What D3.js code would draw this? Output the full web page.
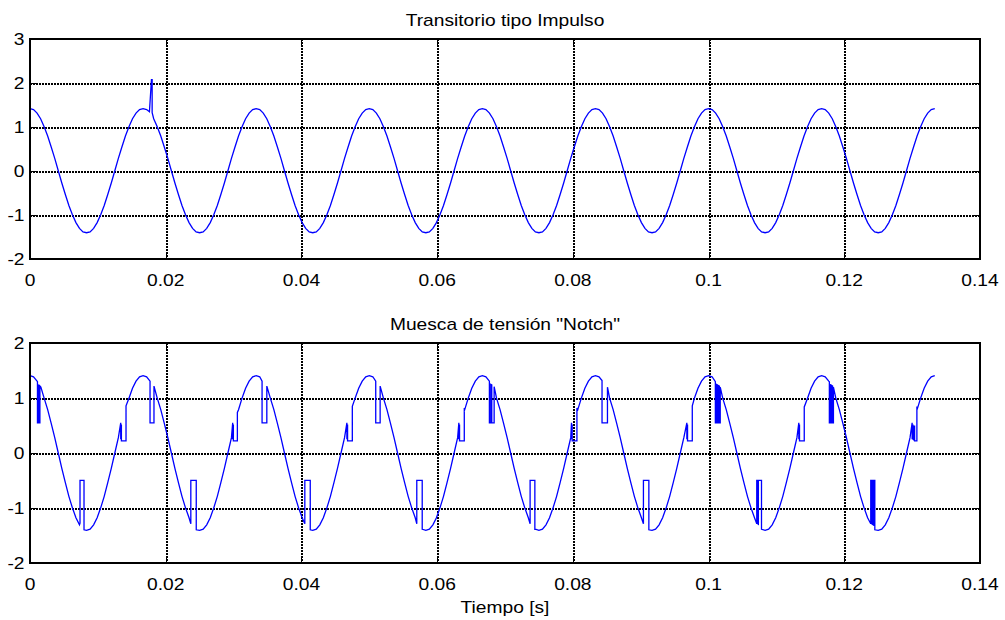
<!DOCTYPE html>
<html>
<head>
<meta charset="utf-8">
<script src="https://cdn.jsdelivr.net/npm/d3@7"></script>
<style>
  html, body { margin: 0; padding: 0; background: #fff; }
  svg { display: block; }
  text { font-family: "Liberation Sans", Arial, Helvetica, sans-serif; font-size: 16px; fill: #000; }
</style>
</head>
<body>
<svg id="chart" width="1005" height="620"></svg>
<script>
// Sampled 60 Hz supply voltage, 32 samples per cycle (p.u.)
const sampleStep = 1 / 1920;
const baseWave = [
  1.41, 1.39, 1.31, 1.18, 1.00, 0.79, 0.54, 0.28, 0.00, -0.28, -0.54, -0.79, -1.00, -1.18, -1.31, -1.39,
  -1.41, -1.39, -1.31, -1.18, -1.00, -0.79, -0.54, -0.28, 0.00, 0.28, 0.54, 0.79, 1.00, 1.18, 1.31, 1.39,
  1.41, 1.39, 1.31, 1.18, 1.00, 0.79, 0.54, 0.28, 0.00, -0.28, -0.54, -0.79, -1.00, -1.18, -1.31, -1.39,
  -1.41, -1.39, -1.31, -1.18, -1.00, -0.79, -0.54, -0.28, 0.00, 0.28, 0.54, 0.79, 1.00, 1.18, 1.31, 1.39,
  1.41, 1.39, 1.31, 1.18, 1.00, 0.79, 0.54, 0.28, 0.00, -0.28, -0.54, -0.79, -1.00, -1.18, -1.31, -1.39,
  -1.41, -1.39, -1.31, -1.18, -1.00, -0.79, -0.54, -0.28, 0.00, 0.28, 0.54, 0.79, 1.00, 1.18, 1.31, 1.39,
  1.41, 1.39, 1.31, 1.18, 1.00, 0.79, 0.54, 0.28, 0.00, -0.28, -0.54, -0.79, -1.00, -1.18, -1.31, -1.39,
  -1.41, -1.39, -1.31, -1.18, -1.00, -0.79, -0.54, -0.28, 0.00, 0.28, 0.54, 0.79, 1.00, 1.18, 1.31, 1.39,
  1.41, 1.39, 1.31, 1.18, 1.00, 0.79, 0.54, 0.28, 0.00, -0.28, -0.54, -0.79, -1.00, -1.18, -1.31, -1.39,
  -1.41, -1.39, -1.31, -1.18, -1.00, -0.79, -0.54, -0.28, 0.00, 0.28, 0.54, 0.79, 1.00, 1.18, 1.31, 1.39,
  1.41, 1.39, 1.31, 1.18, 1.00, 0.79, 0.54, 0.28, 0.00, -0.28, -0.54, -0.79, -1.00, -1.18, -1.31, -1.39,
  -1.41, -1.39, -1.31, -1.18, -1.00, -0.79, -0.54, -0.28, 0.00, 0.28, 0.54, 0.79, 1.00, 1.18, 1.31, 1.39,
  1.41, 1.39, 1.31, 1.18, 1.00, 0.79, 0.54, 0.28, 0.00, -0.28, -0.54, -0.79, -1.00, -1.18, -1.31, -1.39,
  -1.41, -1.39, -1.31, -1.18, -1.00, -0.79, -0.54, -0.28, 0.00, 0.28, 0.54, 0.79, 1.00, 1.18, 1.31, 1.39,
  1.41, 1.39, 1.31, 1.18, 1.00, 0.79, 0.54, 0.28, 0.00, -0.28, -0.54, -0.79, -1.00, -1.18, -1.31, -1.39,
  -1.41, -1.39, -1.31, -1.18, -1.00, -0.79, -0.54, -0.28, 0.00, 0.28, 0.54, 0.79, 1.00, 1.18, 1.31, 1.39,
  1.41
];

// Impulsive transient: [time s, voltage]
const impulsePoints = [
  [[0.0176, 1.34], [0.0179, 2.07], [0.0180, 2.07], [0.0180, 1.32]]
];

// Commutation notches after each positive peak
const notchesA = [
  [[0.0011, 1.30], [0.0011, 0.55], [0.00122, 0.55], [0.00122, 1.24], [0.00134, 1.23], [0.00134, 0.55], [0.00146, 0.55], [0.00146, 1.22], [0.0016, 1.20]],
  [[0.01769, 1.31], [0.01769, 0.55], [0.01827, 0.55], [0.01827, 1.22]],
  [[0.0342, 1.31], [0.0342, 0.55], [0.0349, 0.55], [0.0349, 1.22]],
  [[0.05095, 1.31], [0.05095, 0.55], [0.0516, 0.55], [0.0516, 1.22]],
  [[0.0677, 1.31], [0.0677, 0.55], [0.0679, 0.55], [0.0679, 1.25], [0.06805, 1.24], [0.06805, 0.55], [0.0684, 0.55], [0.0684, 1.21]],
  [[0.0843, 1.32], [0.0843, 0.55], [0.0851, 0.55], [0.0851, 1.20]],
  [[0.1010, 1.30], [0.1010, 0.55], [0.10115, 0.55], [0.10115, 1.25], [0.1013, 1.24], [0.1013, 0.55], [0.10145, 0.55], [0.10145, 1.23], [0.1016, 1.22], [0.1016, 0.55], [0.10172, 0.55], [0.10172, 1.20]],
  [[0.1178, 1.30], [0.1178, 0.55], [0.11792, 0.55], [0.11792, 1.25], [0.11804, 1.24], [0.11804, 0.55], [0.11816, 0.55], [0.11816, 1.23], [0.11828, 1.22], [0.11828, 0.55], [0.1184, 0.55], [0.1184, 1.20]]
];

// Notches just before each negative peak
const notchesB = [
  [[0.00737, -1.28], [0.00737, -0.50], [0.00796, -0.50], [0.00796, -1.40]],
  [[0.0237, -1.29], [0.0237, -0.50], [0.0245, -0.50], [0.0245, -1.40]],
  [[0.0405, -1.29], [0.0405, -0.50], [0.0413, -0.50], [0.0413, -1.40]],
  [[0.0570, -1.29], [0.0570, -0.50], [0.0578, -0.50], [0.0578, -1.40]],
  [[0.0737, -1.29], [0.0737, -0.50], [0.0744, -0.50], [0.0744, -1.39]],
  [[0.0904, -1.29], [0.0904, -0.50], [0.0912, -0.50], [0.0912, -1.40]],
  [[0.1071, -1.29], [0.1071, -0.50], [0.10722, -0.50], [0.10722, -1.29], [0.10734, -1.30], [0.10734, -0.50], [0.1078, -0.50], [0.1078, -1.40]],
  [[0.1239, -1.29], [0.1239, -0.50], [0.12402, -0.50], [0.12402, -1.29], [0.12414, -1.30], [0.12414, -0.50], [0.12426, -0.50], [0.12426, -1.31], [0.12438, -1.32], [0.12438, -0.50], [0.1245, -0.50], [0.1245, -1.40]]
];

// Notches on the rising slope
const notchesC = [
  [[0.01337, 0.55], [0.01337, 0.25], [0.01347, 0.52], [0.01347, 0.22], [0.01415, 0.22], [0.01415, 0.86]],
  [[0.02987, 0.55], [0.02987, 0.25], [0.02997, 0.52], [0.02997, 0.22], [0.03056, 0.22], [0.03056, 0.74]],
  [[0.0467, 0.55], [0.0467, 0.25], [0.0468, 0.52], [0.0468, 0.22], [0.0475, 0.22], [0.0475, 0.85]],
  [[0.0632, 0.55], [0.0632, 0.25], [0.0633, 0.52], [0.0633, 0.22], [0.0640, 0.22], [0.0640, 0.82]],
  [[0.0798, 0.55], [0.0798, 0.25], [0.0799, 0.52], [0.0799, 0.22], [0.0806, 0.22], [0.0806, 0.82]],
  [[0.0968, 0.55], [0.0968, 0.25], [0.0969, 0.52], [0.0969, 0.22], [0.0976, 0.22], [0.0976, 0.86]],
  [[0.1133, 0.55], [0.1133, 0.25], [0.1134, 0.52], [0.1134, 0.22], [0.1141, 0.22], [0.1141, 0.84]],
  [[0.1300, 0.55], [0.1300, 0.25], [0.13012, 0.52], [0.13012, 0.24], [0.13024, 0.50], [0.13024, 0.23], [0.13036, 0.50], [0.13036, 0.22], [0.1307, 0.22], [0.1307, 0.85]]
];

const xTicks = [0, 0.02, 0.04, 0.06, 0.08, 0.10, 0.12, 0.14];
const xTickLabels = ["0", "0.02", "0.04", "0.06", "0.08", "0.1", "0.12", "0.14"];
const topYTicks = [-2, -1, 0, 1, 2, 3];
const bottomYTicks = [-2, -1, 0, 1, 2];
const topTitle = "Transitorio tipo Impulso";
const bottomTitle = "Muesca de tensión \"Notch\"";
const xAxisTitle = "Tiempo [s]";

// Merge the sampled wave with event blocks (each block replaces the samples it spans)
function buildSeries(events) {
  const samples = baseWave.map((v, i) => [[i * sampleStep, v]]);
  const kept = samples.filter(b => !events.some(e => b[0][0] >= e[0][0] && b[0][0] <= e[e.length - 1][0]));
  return kept.concat(events).sort((a, b) => a[0][0] - b[0][0]).flat();
}

const svg = d3.select("#chart");
const plotLeft = 30, plotRight = 980;
const x = d3.scaleLinear().domain([0, 0.14]).range([plotLeft, plotRight]);
const textStretch = 1.2;

function stretchedText(g, tx, ty, str, anchor) {
  g.append("text")
    .attr("transform", `translate(${tx},${ty}) scale(${textStretch},1)`)
    .attr("text-anchor", anchor)
    .text(str);
}

function drawPanel(top, bottom, yDomain, yTicks, title, series) {
  const y = d3.scaleLinear().domain(yDomain).range([bottom, top]);
  const g = svg.append("g");
  const snap = v => Math.round(v) + 0.5;

  // dotted grid
  const grid = g.append("g").attr("stroke", "#000").attr("stroke-width", 2)
    .attr("stroke-dasharray", "2,1").attr("shape-rendering", "crispEdges");
  xTicks.slice(1, -1).forEach(t => {
    grid.append("line").attr("x1", snap(x(t))).attr("x2", snap(x(t))).attr("y1", top).attr("y2", bottom);
  });
  yTicks.slice(1, -1).forEach(t => {
    grid.append("line").attr("x1", plotLeft).attr("x2", plotRight).attr("y1", snap(y(t))).attr("y2", snap(y(t)));
  });

  // signal
  const line = d3.line().x(d => x(d[0])).y(d => y(d[1]));
  g.append("path").datum(series)
    .attr("fill", "none").attr("stroke", "#0000ff").attr("stroke-width", 1.3)
    .attr("stroke-linejoin", "miter").attr("d", line);

  // inward ticks on all four sides
  const tickLen = 6;
  const ticks = g.append("g").attr("stroke", "#000").attr("stroke-width", 1.5).attr("shape-rendering", "crispEdges");
  xTicks.forEach(t => {
    ticks.append("line").attr("x1", snap(x(t))).attr("x2", snap(x(t))).attr("y1", bottom).attr("y2", bottom - tickLen);
    ticks.append("line").attr("x1", snap(x(t))).attr("x2", snap(x(t))).attr("y1", top).attr("y2", top + tickLen);
  });
  yTicks.forEach(t => {
    ticks.append("line").attr("x1", plotLeft).attr("x2", plotLeft + tickLen).attr("y1", snap(y(t))).attr("y2", snap(y(t)));
    ticks.append("line").attr("x1", plotRight).attr("x2", plotRight - tickLen).attr("y1", snap(y(t))).attr("y2", snap(y(t)));
  });

  // frame
  g.append("rect").attr("x", plotLeft).attr("y", top)
    .attr("width", plotRight - plotLeft).attr("height", bottom - top)
    .attr("fill", "none").attr("stroke", "#000").attr("stroke-width", 2)
    .attr("shape-rendering", "crispEdges");

  // tick labels
  xTicks.forEach((t, i) => stretchedText(g, x(t), bottom + 27.5, xTickLabels[i], "middle"));
  yTicks.forEach(t => stretchedText(g, 24.5, y(t) + 6, String(t), "end"));

  stretchedText(g, (plotLeft + plotRight) / 2, top - 13, title, "middle");
  return g;
}

drawPanel(38.7, 258.7, [-2, 3], topYTicks, topTitle, buildSeries(impulsePoints));
const bottomPanel = drawPanel(343.3, 562.7, [-2, 2], bottomYTicks, bottomTitle,
  buildSeries(notchesA.concat(notchesB, notchesC)));
stretchedText(bottomPanel, (plotLeft + plotRight) / 2, 613, xAxisTitle, "middle");
</script>
</body>
</html>
